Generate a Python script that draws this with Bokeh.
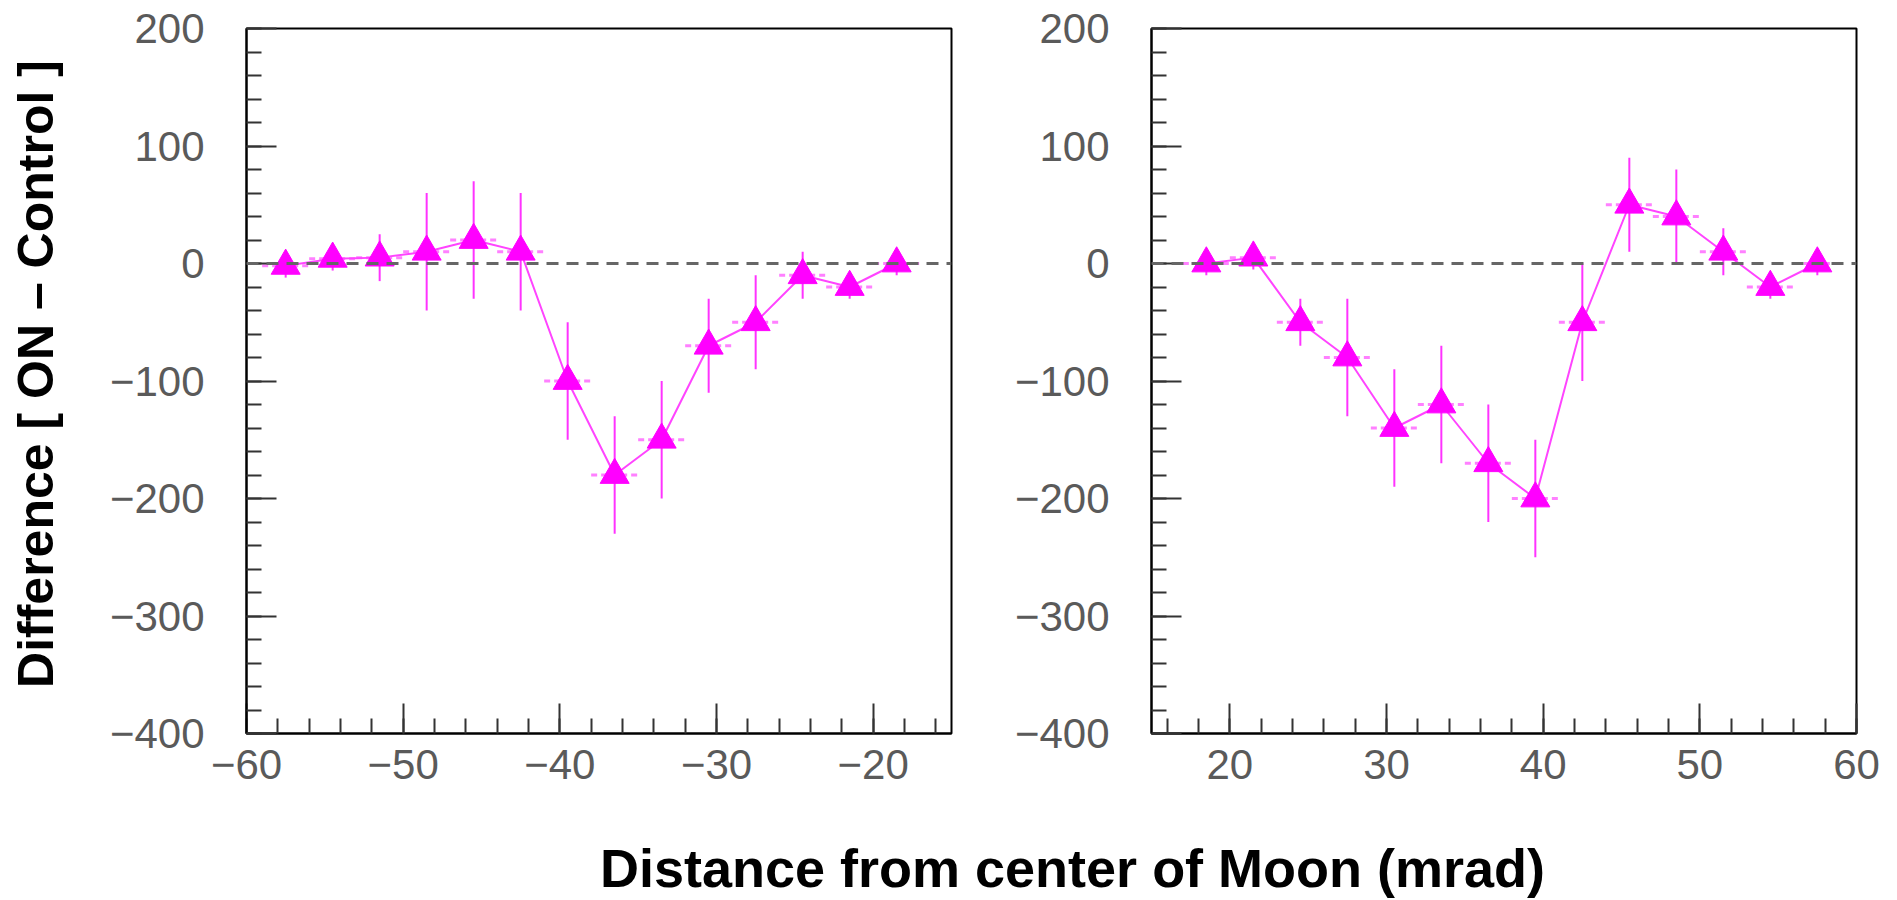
import numpy as np
from bokeh.plotting import figure
from bokeh.layouts import row, column
from bokeh.models import (Range1d, SingleIntervalTicker, CustomJSTickFormatter,
                          Span, Label, ColumnDataSource)
from bokeh.embed import file_html
from bokeh.resources import INLINE

# ---------------- data ----------------
left_x = [-57.5, -54.5, -51.5, -48.5, -45.5, -42.5, -39.5, -36.5, -33.5, -30.5, -27.5, -24.5, -21.5, -18.5]
left_y = [-2, 4, 5, 10, 20, 10, -100, -180, -150, -70, -50, -10, -20, 0]
left_err = [10, 10, 20, 50, 50, 50, 50, 50, 50, 40, 40, 20, 10, 10]

right_x = [18.5, 21.5, 24.5, 27.5, 30.5, 33.5, 36.5, 39.5, 42.5, 45.5, 48.5, 51.5, 54.5, 57.5]
right_y = [0, 5, -50, -80, -140, -120, -170, -200, -50, 50, 40, 10, -20, 0]
right_err = [10, 10, 20, 50, 50, 50, 50, 50, 50, 40, 40, 20, 10, 10]

bin_half_width = 1.5

left_xrange = (-60, -15)
right_xrange = (15, 60)
y_range = (-400, 200)

y_title = "\u00a0Difference [ ON \u2013 Control ]"
x_title = "Distance from center of Moon (mrad)"

MAG = "#ff00ff"
FONT = "Liberation Sans"

fmt_code = "return tick < 0 ? '\u2212' + Math.abs(tick) : String(tick);"


def make_panel(xs, ys, errs, xr, width, border_left, border_right, ylabel=None):
    p = figure(width=width, height=808, x_range=Range1d(*xr), y_range=Range1d(*y_range),
               toolbar_location=None, output_backend="svg",
               min_border_left=border_left, min_border_right=border_right,
               min_border_top=28, min_border_bottom=75)
    p.grid.visible = False
    p.outline_line_color = "black"
    p.outline_line_width = 2
    p.background_fill_color = "white"
    p.border_fill_color = "white"

    p.xaxis.ticker = SingleIntervalTicker(interval=10, num_minor_ticks=5)
    p.yaxis.ticker = SingleIntervalTicker(interval=100, num_minor_ticks=5)
    for ax in (p.xaxis[0], p.yaxis[0]):
        ax.formatter = CustomJSTickFormatter(code=fmt_code)
        ax.major_tick_in = 30
        ax.major_tick_out = 0
        ax.minor_tick_in = 15
        ax.minor_tick_out = 0
        ax.major_tick_line_color = "#333333"
        ax.minor_tick_line_color = "#333333"
        ax.major_tick_line_width = 2
        ax.minor_tick_line_width = 2
        ax.axis_line_color = "black"
        ax.axis_line_width = 2
        ax.major_label_text_font = FONT
        ax.major_label_text_font_size = "42px"
        ax.major_label_text_color = "#5a5a5a"
    p.xaxis.major_label_standoff = 16
    p.yaxis.major_label_standoff = 42

    if ylabel:
        p.yaxis.axis_label = ylabel
        p.yaxis.axis_label_text_font = FONT
        p.yaxis.axis_label_text_font_size = "50px"
        p.yaxis.axis_label_text_font_style = "bold"
        p.yaxis.axis_label_text_color = "black"
        p.yaxis.axis_label_standoff = 43

    p.add_layout(Span(location=0, dimension="width", line_color="#666666",
                      line_width=3, line_dash="12 8"))

    x = np.array(xs, dtype=float)
    y = np.array(ys, dtype=float)
    e = np.array(errs, dtype=float)
    src = ColumnDataSource(dict(x=x, y=y, lo=y - e, hi=y + e,
                                xl=x - bin_half_width, xh=x + bin_half_width))

    p.segment(x0="xl", y0="y", x1="xh", y1="y", source=src,
              line_color="#ff80ff", line_width=3, line_dash="6 4")
    p.line(x="x", y="y", source=src, line_color="#ff44ff", line_width=2)
    p.segment(x0="x", y0="lo", x1="x", y1="hi", source=src,
              line_color="#ff33ff", line_width=2)
    p.scatter(x="x", y="y", source=src, marker="triangle", size=29,
              fill_color=MAG, line_color=MAG)
    return p


left = make_panel(left_x, left_y, left_err, left_xrange, 1000, 246, 49, ylabel=y_title)
right = make_panel(right_x, right_y, right_err, right_xrange, 881, 151, 25)

bottom = figure(width=1881, height=92, toolbar_location=None, output_backend="svg",
                x_axis_location=None, y_axis_location=None,
                min_border=0, x_range=Range1d(0, 1), y_range=Range1d(0, 1))
bottom.grid.visible = False
bottom.outline_line_color = None
bottom.add_layout(Label(x=1072, y=33, x_units="screen", y_units="screen",
                        text=x_title, text_align="center", text_baseline="middle",
                        text_font=FONT, text_font_size="54px", text_font_style="bold",
                        text_color="black"))

layout = column(row(left, right), bottom)

with open("out.html", "w") as f:
    f.write(file_html(layout, INLINE))
